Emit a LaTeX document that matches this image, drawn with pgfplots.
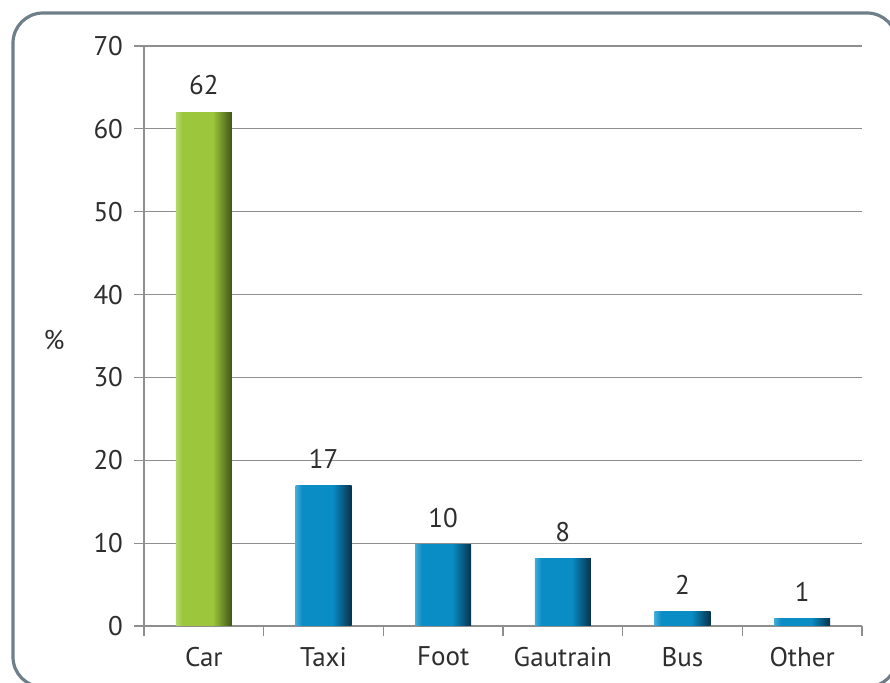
\documentclass[border=0pt]{standalone}
\usepackage{fontspec}
\setmainfont{PT Sans}
\usepackage{pgfplots}
\pgfplotsset{compat=1.18}

\definecolor{framec}{HTML}{6E7F8A}
\definecolor{gridc}{HTML}{8E8E8E}
\definecolor{txt}{HTML}{2E2E2E}
\definecolor{gL}{HTML}{B6D86E}
\definecolor{gM}{HTML}{9CC63C}
\definecolor{gD}{HTML}{3F5417}
\definecolor{bL}{HTML}{45ABD8}
\definecolor{bM}{HTML}{0A8CC5}
\definecolor{bD}{HTML}{07334B}

% light strip left, flat middle, dark edge right
\pgfdeclarehorizontalshading{greenbar}{100bp}{color(0bp)=(gL); color(25bp)=(gL); color(31bp)=(gM); color(58bp)=(gM); color(75bp)=(gD); color(100bp)=(gD)}
\pgfdeclarehorizontalshading{bluebar}{100bp}{color(0bp)=(bL); color(25bp)=(bL); color(31bp)=(bM); color(58bp)=(bM); color(75bp)=(bD); color(100bp)=(bD)}

\newcommand{\lblfont}{\fontsize{13.5}{16}\selectfont}

\begin{document}
\begin{tikzpicture}
\useasboundingbox (0,0) rectangle (445pt,-341.5pt);
\clip (0,0) rectangle (445pt,-341.5pt);
\draw[framec, line width=1.6pt, rounded corners=15pt] (6.5pt,-6.5pt) rectangle (448.5pt,-343.5pt);
\begin{axis}[
    at={(72pt,-313pt)}, anchor=south west,
    scale only axis,
    width=359pt, height=290pt,
    xmin=-0.5, xmax=5.5,
    ymin=0, ymax=70,
    ytick={0,10,...,70},
    xtick={-0.5,0.5,...,5.5},
    xticklabels={},
    extra x ticks={0,1,2,3,4,5},
    extra x tick labels={Car,Taxi,Foot,Gautrain,Bus,Other},
    extra x tick style={major tick length=0pt},
    axis x line*=bottom, axis y line*=left,
    axis line style={gridc, line width=0.6pt},
    tick style={gridc, line width=0.6pt},
    tick align=outside,
    major tick length=5pt,
    ymajorgrids,
    grid style={gridc, line width=0.6pt},
    /pgf/number format/assume math mode=true,
    tick label style={font=\lblfont, text=txt},
    yticklabel style={xshift=-2pt},
    xticklabel style={yshift=-7pt},
    ylabel={\%},
    ylabel style={at={(axis description cs:0,0.5)}, rotate=-90, anchor=center, xshift=-45pt, yshift=-2pt, font=\lblfont, text=txt},
    nodes near coords,
    point meta=explicit symbolic,
    every node near coord/.append style={font=\lblfont, text=txt, anchor=south, yshift=5pt},
    every axis plot/.append style={ybar, bar shift=0pt, bar width=28pt, draw=none},
]
% one plot per bar, so that each bar gets its own shading
\addplot[shading=greenbar] coordinates {(0,62) [62]};
\addplot[shading=bluebar] coordinates {(1,16.9) [17]};
\addplot[shading=bluebar] coordinates {(2,9.8) [10]};
\addplot[shading=bluebar] coordinates {(3,8.1) [8]};
\addplot[shading=bluebar] coordinates {(4,1.7) [2]};
\addplot[shading=bluebar] coordinates {(5,0.85) [1]};
\end{axis}
\end{tikzpicture}
\end{document}
